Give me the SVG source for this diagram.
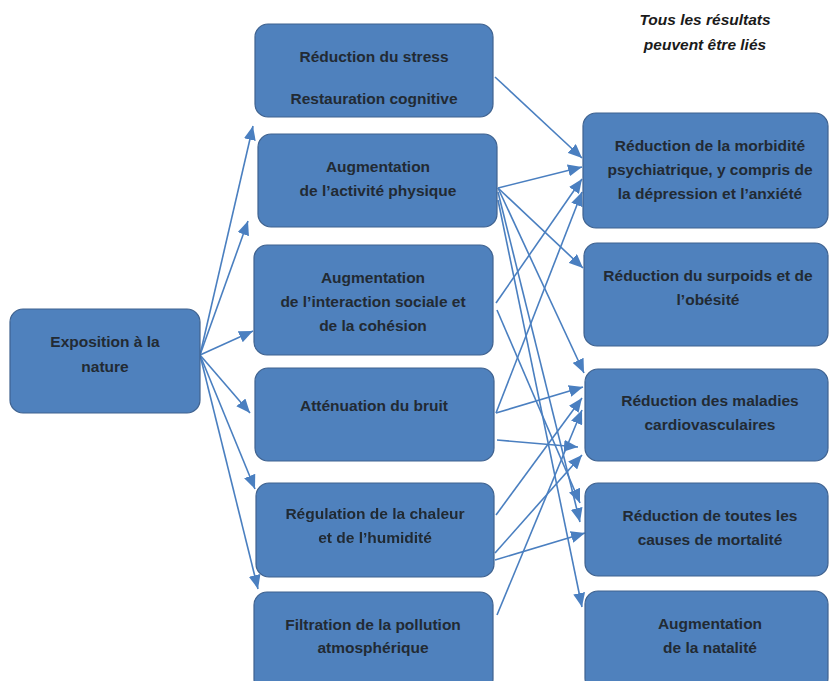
<svg xmlns="http://www.w3.org/2000/svg" width="830" height="681" viewBox="0 0 830 681">
<defs>
<style>
.box{fill:#4f81bd;stroke:#3f628f;stroke-width:1.2}
.t{font-family:"Liberation Sans",Arial,sans-serif;font-weight:bold;font-size:15.5px;fill:#222a33;text-anchor:middle}
.note{font-family:"Liberation Sans",Arial,sans-serif;font-weight:bold;font-style:italic;font-size:15.5px;fill:#1a1a1a;text-anchor:middle}
.c{stroke:#4a7fc0;stroke-width:1.6;fill:none;marker-end:url(#ah)}
</style>
<marker id="ah" markerUnits="userSpaceOnUse" markerWidth="14" markerHeight="12" viewBox="0 0 14 12" refX="14" refY="6" orient="auto">
<path d="M0,0 L14,6 L0,12 Z" fill="#4a7fc0"/>
</marker>
<filter id="soft" x="-5%" y="-5%" width="110%" height="110%"><feGaussianBlur stdDeviation="0.7"/></filter>
</defs>
<rect width="830" height="681" fill="#ffffff"/>

<g id="note">
<text class="note" x="705" y="25">Tous les résultats</text>
<text class="note" x="705" y="50">peuvent être liés</text>
</g>

<g id="connectors">
<line class="c" x1="200" y1="355" x2="253" y2="126"/>
<line class="c" x1="200" y1="355" x2="248" y2="221"/>
<line class="c" x1="200" y1="355" x2="253" y2="331"/>
<line class="c" x1="200" y1="355" x2="250" y2="413"/>
<line class="c" x1="200" y1="355" x2="255" y2="489"/>
<line class="c" x1="200" y1="355" x2="258" y2="589"/>

<line class="c" x1="495" y1="77" x2="582" y2="158"/>
<line class="c" x1="498" y1="188" x2="582" y2="167"/>
<line class="c" x1="498" y1="188" x2="583" y2="268"/>
<line class="c" x1="498" y1="188" x2="584" y2="373"/>
<line class="c" x1="498" y1="192" x2="580" y2="522"/>
<line class="c" x1="498" y1="200" x2="582" y2="607"/>

<line class="c" x1="496" y1="303" x2="582" y2="179"/>
<line class="c" x1="497" y1="310" x2="580" y2="503"/>

<line class="c" x1="496" y1="413" x2="582" y2="192"/>
<line class="c" x1="496" y1="413" x2="583" y2="387"/>
<line class="c" x1="497" y1="440" x2="578" y2="447"/>

<line class="c" x1="496" y1="515" x2="582" y2="398"/>
<line class="c" x1="495" y1="553" x2="582" y2="455"/>
<line class="c" x1="495" y1="560" x2="585" y2="533"/>

<line class="c" x1="497" y1="615" x2="582" y2="410"/>
</g>

<g id="n-exposition">
<rect class="box" x="10" y="309" width="190" height="104" rx="13"/>
<text class="t" x="105" y="347">Exposition à la</text>
<text class="t" x="105" y="372">nature</text>
</g>

<g id="n-stress">
<rect class="box" x="255" y="24" width="238" height="93" rx="13"/>
<text class="t" x="374" y="62">Réduction du stress</text>
<text class="t" x="374" y="104">Restauration cognitive</text>
</g>

<g id="n-activite">
<rect class="box" x="258" y="134" width="239" height="93" rx="13"/>
<text class="t" x="378" y="172">Augmentation</text>
<text class="t" x="378" y="196">de l’activité physique</text>
</g>

<g id="n-social">
<rect class="box" x="254" y="245" width="239" height="110" rx="13"/>
<text class="t" x="373" y="283">Augmentation</text>
<text class="t" x="373" y="307">de l’interaction sociale et</text>
<text class="t" x="373" y="331">de la cohésion</text>
</g>

<g id="n-bruit">
<rect class="box" x="255" y="368" width="239" height="93" rx="13"/>
<text class="t" x="374" y="411">Atténuation du bruit</text>
</g>

<g id="n-chaleur" filter="url(#soft)">
<rect class="box" x="256" y="483" width="238" height="94" rx="13"/>
<text class="t" x="375" y="519">Régulation de la chaleur</text>
<text class="t" x="375" y="543">et de l’humidité</text>
</g>

<g id="n-pollution">
<rect class="box" x="254" y="592" width="239" height="100" rx="13"/>
<text class="t" x="373" y="630">Filtration de la pollution</text>
<text class="t" x="373" y="653">atmosphérique</text>
</g>

<g id="n-psy">
<rect class="box" x="583" y="113" width="245" height="115" rx="13"/>
<text class="t" x="710" y="151">Réduction de la morbidité</text>
<text class="t" x="710" y="175">psychiatrique, y compris de</text>
<text class="t" x="710" y="199">la dépression et l’anxiété</text>
</g>

<g id="n-obesite">
<rect class="box" x="584" y="243" width="244" height="103" rx="13"/>
<text class="t" x="708" y="281">Réduction du surpoids et de</text>
<text class="t" x="708" y="305">l’obésité</text>
</g>

<g id="n-cardio">
<rect class="box" x="585" y="369" width="243" height="92" rx="13"/>
<text class="t" x="710" y="406">Réduction des maladies</text>
<text class="t" x="710" y="430">cardiovasculaires</text>
</g>

<g id="n-mortalite">
<rect class="box" x="585" y="483" width="243" height="93" rx="13"/>
<text class="t" x="710" y="521">Réduction de toutes les</text>
<text class="t" x="710" y="545">causes de mortalité</text>
</g>

<g id="n-natalite">
<rect class="box" x="585" y="591" width="243" height="100" rx="13"/>
<text class="t" x="710" y="629">Augmentation</text>
<text class="t" x="710" y="653">de la natalité</text>
</g>
</svg>
